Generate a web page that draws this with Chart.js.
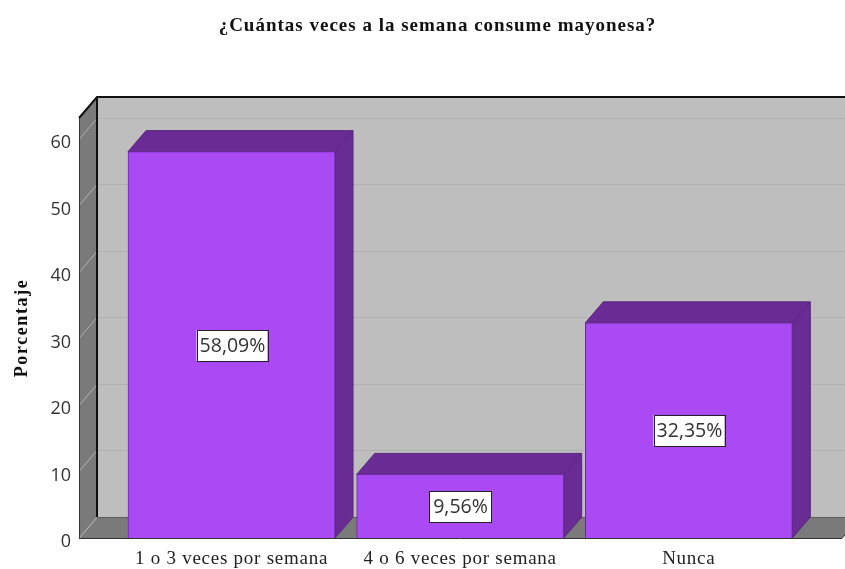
<!DOCTYPE html>
<html lang="es">
<head>
<meta charset="utf-8">
<title>¿Cuántas veces a la semana consume mayonesa?</title>
<script src="https://cdn.jsdelivr.net/npm/chart.js@4"></script>
<style>
    html, body { margin: 0; padding: 0; background: #fff; }
    canvas { display: block; }
</style>
</head>
<body>
<canvas id="mayoChart" width="845" height="569"></canvas>
<script>
const categories = ['1 o 3 veces por semana', '4 o 6 veces por semana', 'Nunca'];
const percentages = [58.09, 9.56, 32.35];
const yTicks = [0, 10, 20, 30, 40, 50, 60];

// Depth of the fake 3D box, in pixels
const depthX = 18;
const depthY = 21;

const serif = "'Liberation Serif', serif";
const sans = "'Open Sans', sans-serif";

// The reference text is wider than Liberation Serif, so space it out while it draws
function spaceOut(ctx, owner, method, spacing) {
    const original = owner[method];
    owner[method] = function (...args) {
        ctx.letterSpacing = spacing;
        original.apply(owner, args);
        ctx.letterSpacing = '0px';
    };
}

// Back wall, floor and side wall, drawn from the y scale
const framePlugin = {
    id: 'frame3d',
    afterLayout(chart) {
        // title sits a bit right of the page centre
        chart.titleBlock.left = 33;
        spaceOut(chart.ctx, chart.titleBlock, 'draw', '1px');
        spaceOut(chart.ctx, chart.scales.y, 'drawTitle', '1.6px');
        spaceOut(chart.ctx, chart.scales.x, 'drawLabels', '0.75px');
    },
    beforeDatasetsDraw(chart) {
        const { ctx, chartArea: a, scales } = chart;
        const y = scales.y;
        ctx.save();

        ctx.fillStyle = '#bebebe';
        ctx.fillRect(a.left + depthX, a.top - depthY, a.right - a.left, a.bottom - a.top);

        ctx.fillStyle = '#7a7a7a';
        ctx.beginPath();
        ctx.moveTo(a.left, a.top);
        ctx.lineTo(a.left + depthX, a.top - depthY);
        ctx.lineTo(a.left + depthX, a.bottom - depthY);
        ctx.lineTo(a.left, a.bottom);
        ctx.closePath();
        ctx.fill();

        ctx.beginPath();
        ctx.moveTo(a.left, a.bottom);
        ctx.lineTo(a.left + depthX, a.bottom - depthY);
        ctx.lineTo(a.right + depthX, a.bottom - depthY);
        ctx.lineTo(a.right, a.bottom);
        ctx.closePath();
        ctx.fill();

        // grid lines, diagonal on the side wall then flat on the back wall
        ctx.lineWidth = 1;
        yTicks.forEach(v => {
            const py = Math.round(y.getPixelForValue(v)) + 0.5;
            ctx.strokeStyle = '#b2b2b2';
            ctx.beginPath();
            ctx.moveTo(a.left, py);
            ctx.lineTo(a.left + depthX, py - depthY);
            ctx.stroke();
            if (v > 0) {
                ctx.strokeStyle = '#b0b0b0';
                ctx.beginPath();
                ctx.moveTo(a.left + depthX, py - depthY);
                ctx.lineTo(a.right + depthX, py - depthY);
                ctx.stroke();
            }
        });

        ctx.strokeStyle = '#111';
        ctx.lineWidth = 2;
        ctx.beginPath();
        ctx.moveTo(a.left, a.top);
        ctx.lineTo(a.left + depthX, a.top - depthY);
        ctx.lineTo(a.right + depthX, a.top - depthY);
        ctx.moveTo(a.left + depthX, a.top - depthY);
        ctx.lineTo(a.left + depthX, a.bottom - depthY);
        ctx.stroke();

        ctx.lineWidth = 1;
        ctx.strokeStyle = '#333';
        ctx.beginPath();
        ctx.moveTo(a.left + 0.5, a.top);
        ctx.lineTo(a.left + 0.5, a.bottom);
        ctx.moveTo(a.left, a.bottom + 0.5);
        ctx.lineTo(a.right, a.bottom + 0.5);
        ctx.lineTo(a.right + depthX, a.bottom - depthY);
        ctx.stroke();

        ctx.strokeStyle = '#5c5c5c';
        ctx.beginPath();
        ctx.moveTo(a.left + depthX, a.bottom - depthY + 0.5);
        ctx.lineTo(a.right + depthX, a.bottom - depthY + 0.5);
        ctx.stroke();

        // top and right faces of each bar
        chart.getDatasetMeta(0).data.forEach(bar => {
            const left = bar.x - bar.width / 2;
            const right = bar.x + bar.width / 2;
            ctx.fillStyle = '#692b94';
            ctx.strokeStyle = '#5a2580';
            ctx.beginPath();
            ctx.moveTo(left, bar.y);
            ctx.lineTo(left + depthX, bar.y - depthY);
            ctx.lineTo(right + depthX, bar.y - depthY);
            ctx.lineTo(right + depthX, bar.base - depthY);
            ctx.lineTo(right, bar.base);
            ctx.lineTo(right, bar.y);
            ctx.closePath();
            ctx.fill();
            ctx.stroke();
            ctx.beginPath();
            ctx.moveTo(right, bar.y);
            ctx.lineTo(right + depthX, bar.y - depthY);
            ctx.stroke();
        });
        ctx.restore();
    }
};

// White boxed value label in the middle of each bar
const boxLabelPlugin = {
    id: 'boxLabels',
    afterDatasetsDraw(chart) {
        const { ctx } = chart;
        ctx.save();
        ctx.font = '19.5px ' + sans;
        ctx.textAlign = 'center';
        ctx.textBaseline = 'middle';
        chart.getDatasetMeta(0).data.forEach((bar, i) => {
            const text = percentages[i].toFixed(2).replace('.', ',') + '%';
            const cx = Math.round(bar.x);
            const cy = Math.round((bar.y + bar.base) / 2);
            const w = i === 1 ? 62 : 71;
            ctx.fillStyle = '#fff';
            ctx.fillRect(cx - w / 2, cy - 15, w, 31);
            ctx.strokeStyle = '#222';
            ctx.lineWidth = 1;
            ctx.strokeRect(Math.round(cx - w / 2) + 0.5, cy - 15 + 0.5, w, 31);
            ctx.fillStyle = '#333';
            ctx.fillText(text, cx + 0.5, cy + 1);
        });
        ctx.restore();
    }
};

new Chart(document.getElementById('mayoChart'), {
    type: 'bar',
    data: {
        datasets: [{
            data: categories.map((c, i) => ({ x: i, y: percentages[i] })),
            backgroundColor: '#a94af5',
            borderColor: '#6a2c9a',
            borderWidth: 1,
            barThickness: 207
        }]
    },
    plugins: [framePlugin, boxLabelPlugin],
    options: {
        responsive: false,
        animation: false,
        layout: { padding: { right: 3 } },
        plugins: {
            legend: { display: false },
            tooltip: { enabled: false },
            title: {
                display: true,
                text: '¿Cuántas veces a la semana consume mayonesa?',
                color: '#111',
                font: { family: serif, size: 19, weight: 'bold' },
                padding: { top: 15, bottom: 80.2 }
            }
        },
        scales: {
            x: {
                type: 'linear',
                offset: false,
                min: -0.667,
                max: 2.67,
                grid: { display: false },
                border: { display: false },
                afterBuildTicks: axis => { axis.ticks = categories.map((c, i) => ({ value: i })); },
                afterFit: axis => { axis.height = 31; },
                ticks: {
                    autoSkip: false,
                    maxRotation: 0,
                    padding: 2,
                    color: '#222',
                    font: { family: serif, size: 19 },
                    callback: value => categories[value]
                }
            },
            y: {
                min: 0,
                max: 63.15,
                grid: { display: false },
                border: { display: false },
                afterBuildTicks: axis => { axis.ticks = yTicks.map(v => ({ value: v })); },
                afterFit: axis => { axis.width = 79; },
                title: {
                    display: true,
                    text: 'Porcentaje',
                    color: '#111',
                    font: { family: serif, size: 18, weight: 'bold' },
                    padding: { top: 12, bottom: 0 }
                },
                ticks: {
                    padding: 0,
                    labelOffset: 4,
                    color: '#333',
                    font: { family: sans, size: 18 }
                }
            }
        }
    }
});
</script>
</body>
</html>
